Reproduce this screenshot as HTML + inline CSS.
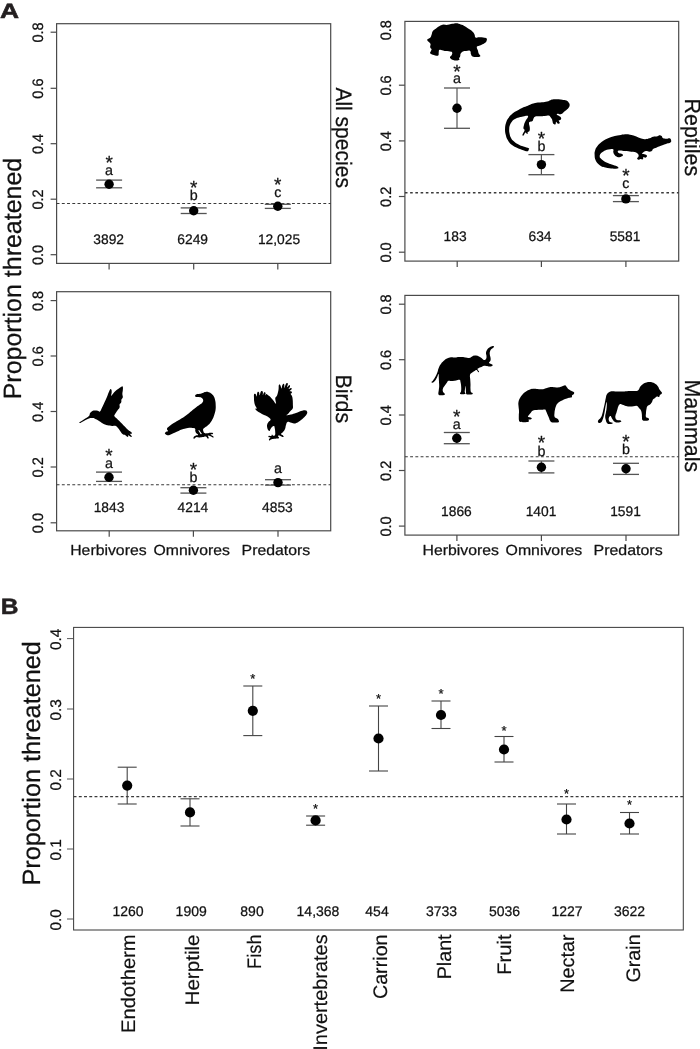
<!DOCTYPE html>
<html><head><meta charset="utf-8"><title>Figure</title>
<style>
html,body{margin:0;padding:0;background:#fff;}
svg{display:block;font-family:"Liberation Sans",sans-serif;fill:#111;will-change:transform;opacity:0.999;text-rendering:geometricPrecision;}
text{stroke:#111;stroke-width:0.25px;stroke-linejoin:round;}
</style></head><body>
<svg width="700" height="1049" viewBox="0 0 700 1049">
<rect width="700" height="1049" fill="#fff" stroke="none"/>
<rect x="56.6" y="23.7" width="274.09999999999997" height="239.7" fill="none" stroke="#4a4a4a" stroke-width="1.2"/>
<line x1="50.6" y1="32.2" x2="56.6" y2="32.2" stroke="#4a4a4a" stroke-width="1.2" />
<line x1="50.6" y1="88.3" x2="56.6" y2="88.3" stroke="#4a4a4a" stroke-width="1.2" />
<line x1="50.6" y1="143.7" x2="56.6" y2="143.7" stroke="#4a4a4a" stroke-width="1.2" />
<line x1="50.6" y1="199.2" x2="56.6" y2="199.2" stroke="#4a4a4a" stroke-width="1.2" />
<line x1="50.6" y1="254.7" x2="56.6" y2="254.7" stroke="#4a4a4a" stroke-width="1.2" />
<text transform="translate(43.199999999999996,42.6) rotate(-90)" font-size="15.1" textLength="20.2" lengthAdjust="spacingAndGlyphs">0.8</text>
<text transform="translate(43.199999999999996,98.69999999999999) rotate(-90)" font-size="15.1" textLength="20.2" lengthAdjust="spacingAndGlyphs">0.6</text>
<text transform="translate(43.199999999999996,154.1) rotate(-90)" font-size="15.1" textLength="20.2" lengthAdjust="spacingAndGlyphs">0.4</text>
<text transform="translate(43.199999999999996,209.6) rotate(-90)" font-size="15.1" textLength="20.2" lengthAdjust="spacingAndGlyphs">0.2</text>
<text transform="translate(43.199999999999996,265.1) rotate(-90)" font-size="15.1" textLength="20.2" lengthAdjust="spacingAndGlyphs">0.0</text>
<line x1="109.1" y1="263.4" x2="109.1" y2="269.4" stroke="#4a4a4a" stroke-width="1.2" />
<line x1="193.7" y1="263.4" x2="193.7" y2="269.4" stroke="#4a4a4a" stroke-width="1.2" />
<line x1="277.8" y1="263.4" x2="277.8" y2="269.4" stroke="#4a4a4a" stroke-width="1.2" />
<line x1="56.6" y1="203.5" x2="330.7" y2="203.5" stroke="#3a3a3a" stroke-width="1.15" stroke-dasharray="2.9 2.33"/>
<line x1="109.1" y1="180.1" x2="109.1" y2="187.8" stroke="#555" stroke-width="1.2" />
<line x1="96.1" y1="180.1" x2="122.1" y2="180.1" stroke="#555" stroke-width="1.3" />
<line x1="96.1" y1="187.8" x2="122.1" y2="187.8" stroke="#555" stroke-width="1.3" />
<circle cx="109.1" cy="184.2" r="4.7" fill="#000"/>
<line x1="193.7" y1="207.9" x2="193.7" y2="213.5" stroke="#555" stroke-width="1.2" />
<line x1="180.7" y1="207.9" x2="206.7" y2="207.9" stroke="#555" stroke-width="1.3" />
<line x1="180.7" y1="213.5" x2="206.7" y2="213.5" stroke="#555" stroke-width="1.3" />
<circle cx="193.7" cy="210.7" r="4.7" fill="#000"/>
<line x1="277.8" y1="204.3" x2="277.8" y2="208.4" stroke="#555" stroke-width="1.2" />
<line x1="264.8" y1="204.3" x2="290.8" y2="204.3" stroke="#555" stroke-width="1.3" />
<line x1="264.8" y1="208.4" x2="290.8" y2="208.4" stroke="#555" stroke-width="1.3" />
<circle cx="277.8" cy="206.3" r="4.7" fill="#000"/>
<text x="108.7" y="243.7" text-anchor="middle" font-size="13.8">3892</text>
<text x="192.7" y="243.7" text-anchor="middle" font-size="13.8">6249</text>
<text x="279" y="243.7" text-anchor="middle" font-size="13.8">12,025</text>
<text x="109.1" y="174.8" text-anchor="middle" font-size="14.3">a</text>
<text x="109.1" y="169.0" text-anchor="middle" font-size="19">*</text>
<text x="193.7" y="199.7" text-anchor="middle" font-size="14.3">b</text>
<text x="193.7" y="193.5" text-anchor="middle" font-size="19">*</text>
<text x="277.8" y="197.1" text-anchor="middle" font-size="14.3">c</text>
<text x="277.8" y="191.0" text-anchor="middle" font-size="19">*</text>
<rect x="404.9" y="21.4" width="273.80000000000007" height="239.70000000000002" fill="none" stroke="#4a4a4a" stroke-width="1.2"/>
<line x1="398.9" y1="85.2" x2="404.9" y2="85.2" stroke="#4a4a4a" stroke-width="1.2" />
<line x1="398.9" y1="140.9" x2="404.9" y2="140.9" stroke="#4a4a4a" stroke-width="1.2" />
<line x1="398.9" y1="196.5" x2="404.9" y2="196.5" stroke="#4a4a4a" stroke-width="1.2" />
<line x1="398.9" y1="252.2" x2="404.9" y2="252.2" stroke="#4a4a4a" stroke-width="1.2" />
<text transform="translate(391.40000000000003,40.3) rotate(-90)" font-size="15.1" textLength="20.2" lengthAdjust="spacingAndGlyphs">0.8</text>
<text transform="translate(391.40000000000003,95.6) rotate(-90)" font-size="15.1" textLength="20.2" lengthAdjust="spacingAndGlyphs">0.6</text>
<text transform="translate(391.40000000000003,151.3) rotate(-90)" font-size="15.1" textLength="20.2" lengthAdjust="spacingAndGlyphs">0.4</text>
<text transform="translate(391.40000000000003,206.9) rotate(-90)" font-size="15.1" textLength="20.2" lengthAdjust="spacingAndGlyphs">0.2</text>
<text transform="translate(391.40000000000003,262.6) rotate(-90)" font-size="15.1" textLength="20.2" lengthAdjust="spacingAndGlyphs">0.0</text>
<line x1="457.2" y1="261.1" x2="457.2" y2="267.1" stroke="#4a4a4a" stroke-width="1.2" />
<line x1="541.4" y1="261.1" x2="541.4" y2="267.1" stroke="#4a4a4a" stroke-width="1.2" />
<line x1="625.9" y1="261.1" x2="625.9" y2="267.1" stroke="#4a4a4a" stroke-width="1.2" />
<line x1="404.9" y1="192.8" x2="678.7" y2="192.8" stroke="#3a3a3a" stroke-width="1.6" stroke-dasharray="2.6 2.63"/>
<line x1="457" y1="88" x2="457" y2="128.3" stroke="#555" stroke-width="1.2" />
<line x1="444" y1="88" x2="470" y2="88" stroke="#555" stroke-width="1.3" />
<line x1="444" y1="128.3" x2="470" y2="128.3" stroke="#555" stroke-width="1.3" />
<circle cx="457" cy="108.2" r="4.7" fill="#000"/>
<line x1="541.4" y1="154.6" x2="541.4" y2="174.7" stroke="#555" stroke-width="1.2" />
<line x1="528.4" y1="154.6" x2="554.4" y2="154.6" stroke="#555" stroke-width="1.3" />
<line x1="528.4" y1="174.7" x2="554.4" y2="174.7" stroke="#555" stroke-width="1.3" />
<circle cx="541.4" cy="164.6" r="4.7" fill="#000"/>
<line x1="625.9" y1="195.6" x2="625.9" y2="201.6" stroke="#555" stroke-width="1.2" />
<line x1="612.9" y1="195.6" x2="638.9" y2="195.6" stroke="#555" stroke-width="1.3" />
<line x1="612.9" y1="201.6" x2="638.9" y2="201.6" stroke="#555" stroke-width="1.3" />
<circle cx="625.9" cy="198.9" r="4.7" fill="#000"/>
<text x="455.1" y="241.4" text-anchor="middle" font-size="13.8">183</text>
<text x="540" y="241.4" text-anchor="middle" font-size="13.8">634</text>
<text x="625" y="241.4" text-anchor="middle" font-size="13.8">5581</text>
<text x="457" y="83.4" text-anchor="middle" font-size="14.3">a</text>
<text x="457" y="77.6" text-anchor="middle" font-size="19">*</text>
<text x="541.4" y="150.9" text-anchor="middle" font-size="14.3">b</text>
<text x="541.4" y="145.20000000000002" text-anchor="middle" font-size="19">*</text>
<text x="625.9" y="187.7" text-anchor="middle" font-size="14.3">c</text>
<text x="625.9" y="182.10000000000002" text-anchor="middle" font-size="19">*</text>
<rect x="56.6" y="291.7" width="274.09999999999997" height="239.09999999999997" fill="none" stroke="#4a4a4a" stroke-width="1.2"/>
<line x1="50.6" y1="300.6" x2="56.6" y2="300.6" stroke="#4a4a4a" stroke-width="1.2" />
<line x1="50.6" y1="356" x2="56.6" y2="356" stroke="#4a4a4a" stroke-width="1.2" />
<line x1="50.6" y1="411.5" x2="56.6" y2="411.5" stroke="#4a4a4a" stroke-width="1.2" />
<line x1="50.6" y1="467" x2="56.6" y2="467" stroke="#4a4a4a" stroke-width="1.2" />
<line x1="50.6" y1="522.8" x2="56.6" y2="522.8" stroke="#4a4a4a" stroke-width="1.2" />
<text transform="translate(43.199999999999996,311.00000000000006) rotate(-90)" font-size="15.1" textLength="20.2" lengthAdjust="spacingAndGlyphs">0.8</text>
<text transform="translate(43.199999999999996,366.40000000000003) rotate(-90)" font-size="15.1" textLength="20.2" lengthAdjust="spacingAndGlyphs">0.6</text>
<text transform="translate(43.199999999999996,421.90000000000003) rotate(-90)" font-size="15.1" textLength="20.2" lengthAdjust="spacingAndGlyphs">0.4</text>
<text transform="translate(43.199999999999996,477.40000000000003) rotate(-90)" font-size="15.1" textLength="20.2" lengthAdjust="spacingAndGlyphs">0.2</text>
<text transform="translate(43.199999999999996,533.1999999999999) rotate(-90)" font-size="15.1" textLength="20.2" lengthAdjust="spacingAndGlyphs">0.0</text>
<line x1="109.2" y1="530.8" x2="109.2" y2="536.8" stroke="#4a4a4a" stroke-width="1.2" />
<line x1="193.4" y1="530.8" x2="193.4" y2="536.8" stroke="#4a4a4a" stroke-width="1.2" />
<line x1="278" y1="530.8" x2="278" y2="536.8" stroke="#4a4a4a" stroke-width="1.2" />
<line x1="56.6" y1="484.7" x2="330.7" y2="484.7" stroke="#3a3a3a" stroke-width="1.15" stroke-dasharray="2.9 2.33"/>
<line x1="109" y1="472.1" x2="109" y2="481.4" stroke="#555" stroke-width="1.2" />
<line x1="96" y1="472.1" x2="122" y2="472.1" stroke="#555" stroke-width="1.3" />
<line x1="96" y1="481.4" x2="122" y2="481.4" stroke="#555" stroke-width="1.3" />
<circle cx="109" cy="477.3" r="4.7" fill="#000"/>
<line x1="193.4" y1="487.7" x2="193.4" y2="493.1" stroke="#555" stroke-width="1.2" />
<line x1="180.4" y1="487.7" x2="206.4" y2="487.7" stroke="#555" stroke-width="1.3" />
<line x1="180.4" y1="493.1" x2="206.4" y2="493.1" stroke="#555" stroke-width="1.3" />
<circle cx="193.4" cy="490.3" r="4.7" fill="#000"/>
<line x1="278" y1="479.7" x2="278" y2="485.1" stroke="#555" stroke-width="1.2" />
<line x1="265" y1="479.7" x2="291" y2="479.7" stroke="#555" stroke-width="1.3" />
<line x1="265" y1="485.1" x2="291" y2="485.1" stroke="#555" stroke-width="1.3" />
<circle cx="278" cy="482.6" r="4.7" fill="#000"/>
<text x="109" y="512" text-anchor="middle" font-size="13.8">1843</text>
<text x="192.9" y="512" text-anchor="middle" font-size="13.8">4214</text>
<text x="277.4" y="512" text-anchor="middle" font-size="13.8">4853</text>
<text x="109" y="467.8" text-anchor="middle" font-size="14.3">a</text>
<text x="109" y="461.6" text-anchor="middle" font-size="19">*</text>
<text x="193.4" y="482.3" text-anchor="middle" font-size="14.3">b</text>
<text x="193.4" y="475.90000000000003" text-anchor="middle" font-size="19">*</text>
<text x="278" y="472.9" text-anchor="middle" font-size="14.3">a</text>
<rect x="404.9" y="295.4" width="273.80000000000007" height="239.70000000000005" fill="none" stroke="#4a4a4a" stroke-width="1.2"/>
<line x1="398.9" y1="304.2" x2="404.9" y2="304.2" stroke="#4a4a4a" stroke-width="1.2" />
<line x1="398.9" y1="359.7" x2="404.9" y2="359.7" stroke="#4a4a4a" stroke-width="1.2" />
<line x1="398.9" y1="415" x2="404.9" y2="415" stroke="#4a4a4a" stroke-width="1.2" />
<line x1="398.9" y1="470.5" x2="404.9" y2="470.5" stroke="#4a4a4a" stroke-width="1.2" />
<line x1="398.9" y1="526.1" x2="404.9" y2="526.1" stroke="#4a4a4a" stroke-width="1.2" />
<text transform="translate(391.40000000000003,314.6) rotate(-90)" font-size="15.1" textLength="20.2" lengthAdjust="spacingAndGlyphs">0.8</text>
<text transform="translate(391.40000000000003,370.1) rotate(-90)" font-size="15.1" textLength="20.2" lengthAdjust="spacingAndGlyphs">0.6</text>
<text transform="translate(391.40000000000003,425.40000000000003) rotate(-90)" font-size="15.1" textLength="20.2" lengthAdjust="spacingAndGlyphs">0.4</text>
<text transform="translate(391.40000000000003,480.90000000000003) rotate(-90)" font-size="15.1" textLength="20.2" lengthAdjust="spacingAndGlyphs">0.2</text>
<text transform="translate(391.40000000000003,536.5) rotate(-90)" font-size="15.1" textLength="20.2" lengthAdjust="spacingAndGlyphs">0.0</text>
<line x1="456.9" y1="535.1" x2="456.9" y2="541.1" stroke="#4a4a4a" stroke-width="1.2" />
<line x1="541.4" y1="535.1" x2="541.4" y2="541.1" stroke="#4a4a4a" stroke-width="1.2" />
<line x1="626" y1="535.1" x2="626" y2="541.1" stroke="#4a4a4a" stroke-width="1.2" />
<line x1="404.9" y1="456.7" x2="678.7" y2="456.7" stroke="#3a3a3a" stroke-width="1.15" stroke-dasharray="2.9 2.33"/>
<line x1="456.8" y1="432.5" x2="456.8" y2="443.7" stroke="#555" stroke-width="1.2" />
<line x1="443.8" y1="432.5" x2="469.8" y2="432.5" stroke="#555" stroke-width="1.3" />
<line x1="443.8" y1="443.7" x2="469.8" y2="443.7" stroke="#555" stroke-width="1.3" />
<circle cx="456.8" cy="438.3" r="4.7" fill="#000"/>
<line x1="541.4" y1="461" x2="541.4" y2="472.9" stroke="#555" stroke-width="1.2" />
<line x1="528.4" y1="461" x2="554.4" y2="461" stroke="#555" stroke-width="1.3" />
<line x1="528.4" y1="472.9" x2="554.4" y2="472.9" stroke="#555" stroke-width="1.3" />
<circle cx="541.4" cy="467.2" r="4.7" fill="#000"/>
<line x1="626" y1="463.3" x2="626" y2="474.4" stroke="#555" stroke-width="1.2" />
<line x1="613" y1="463.3" x2="639" y2="463.3" stroke="#555" stroke-width="1.3" />
<line x1="613" y1="474.4" x2="639" y2="474.4" stroke="#555" stroke-width="1.3" />
<circle cx="626" cy="468.7" r="4.7" fill="#000"/>
<text x="456.4" y="515.6" text-anchor="middle" font-size="13.8">1866</text>
<text x="541" y="515.6" text-anchor="middle" font-size="13.8">1401</text>
<text x="625.5" y="515.6" text-anchor="middle" font-size="13.8">1591</text>
<text x="456.8" y="429.4" text-anchor="middle" font-size="14.3">a</text>
<text x="456.8" y="423.3" text-anchor="middle" font-size="19">*</text>
<text x="541.4" y="455.6" text-anchor="middle" font-size="14.3">b</text>
<text x="541.4" y="449.2" text-anchor="middle" font-size="19">*</text>
<text x="626" y="454.1" text-anchor="middle" font-size="14.3">b</text>
<text x="626" y="447.7" text-anchor="middle" font-size="19">*</text>
<text x="70.2" y="555.2" font-size="14.6" textLength="76.4" lengthAdjust="spacingAndGlyphs">Herbivores</text>
<text x="153.6" y="555.2" font-size="14.6" textLength="76.2" lengthAdjust="spacingAndGlyphs">Omnivores</text>
<text x="241.6" y="555.2" font-size="14.6" textLength="68.6" lengthAdjust="spacingAndGlyphs">Predators</text>
<text x="422.6" y="555.2" font-size="14.6" textLength="76.4" lengthAdjust="spacingAndGlyphs">Herbivores</text>
<text x="505.6" y="555.2" font-size="14.6" textLength="76.6" lengthAdjust="spacingAndGlyphs">Omnivores</text>
<text x="593.6" y="555.2" font-size="14.6" textLength="69" lengthAdjust="spacingAndGlyphs">Predators</text>
<text transform="translate(336.3,87.4) rotate(90)" font-size="22.3" textLength="100.5" lengthAdjust="spacingAndGlyphs">All species</text>
<text transform="translate(684.6,98.6) rotate(90)" font-size="22.3" textLength="77.6" lengthAdjust="spacingAndGlyphs">Reptiles</text>
<text transform="translate(336.4,374.5) rotate(90)" font-size="22.3" textLength="48.6" lengthAdjust="spacingAndGlyphs">Birds</text>
<text transform="translate(684.6,379.5) rotate(90)" font-size="22.3" textLength="92.6" lengthAdjust="spacingAndGlyphs">Mammals</text>
<text transform="translate(20.9,399.3) rotate(-90)" font-size="25" textLength="241.5" lengthAdjust="spacingAndGlyphs">Proportion threatened</text>
<text transform="translate(40.3,885.6) rotate(-90)" font-size="25" textLength="244.5" lengthAdjust="spacingAndGlyphs">Proportion threatened</text>
<text transform="translate(0,18.2) scale(1.27,1)" font-size="20.8" font-weight="bold" fill="#231f20" style="stroke:#231f20;stroke-width:0.6px">A</text>
<text transform="translate(0.8,614) scale(1.1,1)" font-size="22.3" font-weight="bold" fill="#231f20" style="stroke:#231f20;stroke-width:0.5px">B</text>
<rect x="73.6" y="627.4" width="609.6999999999999" height="302.6" fill="none" stroke="#404040" stroke-width="1.05"/>
<line x1="67.0" y1="638.6" x2="73.6" y2="638.6" stroke="#444" stroke-width="0.9" />
<text transform="translate(61.3,650.1) rotate(-90)" font-size="15.4" textLength="21.4" lengthAdjust="spacingAndGlyphs">0.4</text>
<line x1="67.0" y1="709" x2="73.6" y2="709" stroke="#444" stroke-width="0.9" />
<text transform="translate(61.3,720.5) rotate(-90)" font-size="15.4" textLength="21.4" lengthAdjust="spacingAndGlyphs">0.3</text>
<line x1="67.0" y1="779" x2="73.6" y2="779" stroke="#444" stroke-width="0.9" />
<text transform="translate(61.3,790.5) rotate(-90)" font-size="15.4" textLength="21.4" lengthAdjust="spacingAndGlyphs">0.2</text>
<line x1="67.0" y1="849" x2="73.6" y2="849" stroke="#444" stroke-width="0.9" />
<text transform="translate(61.3,860.5) rotate(-90)" font-size="15.4" textLength="21.4" lengthAdjust="spacingAndGlyphs">0.1</text>
<line x1="67.0" y1="919" x2="73.6" y2="919" stroke="#444" stroke-width="0.9" />
<text transform="translate(61.3,930.5) rotate(-90)" font-size="15.4" textLength="21.4" lengthAdjust="spacingAndGlyphs">0.0</text>
<line x1="73.6" y1="796.6" x2="683.3" y2="796.6" stroke="#3a3a3a" stroke-width="1.1" stroke-dasharray="2.9 2.33"/>
<line x1="127.2" y1="767.2" x2="127.2" y2="804" stroke="#444" stroke-width="1.1" />
<line x1="117.7" y1="767.2" x2="136.7" y2="767.2" stroke="#444" stroke-width="1.1" />
<line x1="117.7" y1="804" x2="136.7" y2="804" stroke="#444" stroke-width="1.1" />
<circle cx="127.2" cy="785.6" r="5.1" fill="#000"/>
<line x1="190" y1="798.8" x2="190" y2="826" stroke="#444" stroke-width="1.1" />
<line x1="180.5" y1="798.8" x2="199.5" y2="798.8" stroke="#444" stroke-width="1.1" />
<line x1="180.5" y1="826" x2="199.5" y2="826" stroke="#444" stroke-width="1.1" />
<circle cx="190" cy="812.4" r="5.1" fill="#000"/>
<line x1="252.8" y1="686" x2="252.8" y2="735.6" stroke="#444" stroke-width="1.1" />
<line x1="243.3" y1="686" x2="262.3" y2="686" stroke="#444" stroke-width="1.1" />
<line x1="243.3" y1="735.6" x2="262.3" y2="735.6" stroke="#444" stroke-width="1.1" />
<circle cx="252.8" cy="710.8" r="5.1" fill="#000"/>
<text x="252.8" y="683.3" text-anchor="middle" font-size="13">*</text>
<line x1="315.6" y1="816" x2="315.6" y2="825.2" stroke="#444" stroke-width="1.1" />
<line x1="306.1" y1="816" x2="325.1" y2="816" stroke="#444" stroke-width="1.1" />
<line x1="306.1" y1="825.2" x2="325.1" y2="825.2" stroke="#444" stroke-width="1.1" />
<circle cx="315.6" cy="820.4" r="5.1" fill="#000"/>
<text x="315.6" y="812.9" text-anchor="middle" font-size="13">*</text>
<line x1="378.5" y1="706" x2="378.5" y2="771" stroke="#444" stroke-width="1.1" />
<line x1="369.0" y1="706" x2="388.0" y2="706" stroke="#444" stroke-width="1.1" />
<line x1="369.0" y1="771" x2="388.0" y2="771" stroke="#444" stroke-width="1.1" />
<circle cx="378.5" cy="738.5" r="5.1" fill="#000"/>
<text x="378.5" y="703.0" text-anchor="middle" font-size="13">*</text>
<line x1="441" y1="701" x2="441" y2="728.5" stroke="#444" stroke-width="1.1" />
<line x1="431.5" y1="701" x2="450.5" y2="701" stroke="#444" stroke-width="1.1" />
<line x1="431.5" y1="728.5" x2="450.5" y2="728.5" stroke="#444" stroke-width="1.1" />
<circle cx="441" cy="715" r="5.1" fill="#000"/>
<text x="441" y="698.0" text-anchor="middle" font-size="13">*</text>
<line x1="504" y1="736.5" x2="504" y2="762" stroke="#444" stroke-width="1.1" />
<line x1="494.5" y1="736.5" x2="513.5" y2="736.5" stroke="#444" stroke-width="1.1" />
<line x1="494.5" y1="762" x2="513.5" y2="762" stroke="#444" stroke-width="1.1" />
<circle cx="504" cy="749.5" r="5.1" fill="#000"/>
<text x="504" y="734.5" text-anchor="middle" font-size="13">*</text>
<line x1="566.5" y1="804" x2="566.5" y2="834" stroke="#444" stroke-width="1.1" />
<line x1="557.0" y1="804" x2="576.0" y2="804" stroke="#444" stroke-width="1.1" />
<line x1="557.0" y1="834" x2="576.0" y2="834" stroke="#444" stroke-width="1.1" />
<circle cx="566.5" cy="819.5" r="5.1" fill="#000"/>
<text x="566.5" y="798.0" text-anchor="middle" font-size="13">*</text>
<line x1="629.5" y1="812.5" x2="629.5" y2="834" stroke="#444" stroke-width="1.1" />
<line x1="620.0" y1="812.5" x2="639.0" y2="812.5" stroke="#444" stroke-width="1.1" />
<line x1="620.0" y1="834" x2="639.0" y2="834" stroke="#444" stroke-width="1.1" />
<circle cx="629.5" cy="823.5" r="5.1" fill="#000"/>
<text x="629.5" y="809.0" text-anchor="middle" font-size="13">*</text>
<text x="128" y="916" text-anchor="middle" font-size="14">1260</text>
<text x="191.2" y="916" text-anchor="middle" font-size="14">1909</text>
<text x="252" y="916" text-anchor="middle" font-size="14">890</text>
<text x="318" y="916" text-anchor="middle" font-size="14">14,368</text>
<text x="377" y="916" text-anchor="middle" font-size="14">454</text>
<text x="441.5" y="916" text-anchor="middle" font-size="14">3733</text>
<text x="504.5" y="916" text-anchor="middle" font-size="14">5036</text>
<text x="567" y="916" text-anchor="middle" font-size="14">1227</text>
<text x="629.5" y="916" text-anchor="middle" font-size="14">3622</text>
<text transform="translate(135.1,1033.0) rotate(-90)" font-size="19.6" textLength="98.6" lengthAdjust="spacingAndGlyphs" style="stroke-width:0.15px">Endotherm</text>
<text transform="translate(199.4,1005.5) rotate(-90)" font-size="19.6" textLength="71.1" lengthAdjust="spacingAndGlyphs" style="stroke-width:0.15px">Herptile</text>
<text transform="translate(261.09999999999997,969.0) rotate(-90)" font-size="19.6" textLength="34.6" lengthAdjust="spacingAndGlyphs" style="stroke-width:0.15px">Fish</text>
<text transform="translate(327.2,1050.7) rotate(-90)" font-size="19.6" textLength="116.3" lengthAdjust="spacingAndGlyphs" style="stroke-width:0.15px">Invertebrates</text>
<text transform="translate(387.09999999999997,999.1) rotate(-90)" font-size="19.6" textLength="64.7" lengthAdjust="spacingAndGlyphs" style="stroke-width:0.15px">Carrion</text>
<text transform="translate(451.4,979.3) rotate(-90)" font-size="19.6" textLength="44.9" lengthAdjust="spacingAndGlyphs" style="stroke-width:0.15px">Plant</text>
<text transform="translate(511.09999999999997,974.6999999999999) rotate(-90)" font-size="19.6" textLength="40.3" lengthAdjust="spacingAndGlyphs" style="stroke-width:0.15px">Fruit</text>
<text transform="translate(573.5,992.6999999999999) rotate(-90)" font-size="19.6" textLength="58.3" lengthAdjust="spacingAndGlyphs" style="stroke-width:0.15px">Nectar</text>
<text transform="translate(640.4,982.5) rotate(-90)" font-size="19.6" textLength="48.1" lengthAdjust="spacingAndGlyphs" style="stroke-width:0.15px">Grain</text>
<g fill="#000" stroke="none">
<path d="M427.29,39.43C427.66,38.48 429.18,38.79 430.18,37.71C431.18,36.64 430.95,36.37 431.57,34.82C432.20,33.27 431.81,32.57 432.86,31.07C433.91,29.57 434.32,29.69 436.07,28.39C437.82,27.09 438.73,26.38 440.36,25.50C441.98,24.62 441.29,24.79 443.04,24.64C444.79,24.49 445.73,25.06 447.86,24.86C449.98,24.66 450.14,24.19 452.14,23.79C454.14,23.39 454.68,23.09 456.43,23.14C458.18,23.19 457.89,23.40 459.64,24.00C461.39,24.60 461.93,24.69 463.93,25.71C465.93,26.74 466.34,27.14 468.21,28.39C470.09,29.64 470.51,29.70 471.96,31.07C473.41,32.45 473.60,32.79 474.43,34.29C475.25,35.79 474.45,36.80 475.50,37.50C476.55,38.20 477.13,37.29 478.93,37.29C480.73,37.29 481.46,37.25 483.21,37.50C484.96,37.75 485.63,37.61 486.43,38.36C487.23,39.11 487.02,39.61 486.64,40.71C486.27,41.81 486.00,42.12 484.82,43.07C483.65,44.02 483.11,44.09 481.61,44.79C480.11,45.49 479.52,45.52 478.39,46.07C477.27,46.62 476.91,46.14 476.79,47.14C476.66,48.14 477.41,48.86 477.86,50.36C478.31,51.86 478.16,52.37 478.71,53.57C479.26,54.77 480.04,54.75 480.21,55.50C480.39,56.25 480.51,56.44 479.46,56.79C478.41,57.14 477.34,57.05 475.71,57.00C474.09,56.95 473.62,57.25 472.50,56.57C471.38,55.90 471.44,55.43 470.89,54.11C470.34,52.78 471.27,51.64 470.14,50.89C469.02,50.14 467.77,50.77 466.07,50.89C464.37,51.02 464.11,50.80 462.86,51.43C461.61,52.05 461.34,52.45 460.71,53.57C460.09,54.70 460.55,55.12 460.18,56.25C459.80,57.38 459.28,57.57 459.11,58.39C458.93,59.22 460.05,59.29 459.43,59.79C458.80,60.29 457.88,60.49 456.43,60.54C454.98,60.59 454.51,60.43 453.21,60.00C451.91,59.57 451.61,59.41 450.86,58.71C450.11,58.01 449.82,57.83 450.00,57.00C450.18,56.17 451.11,56.23 451.61,55.18C452.11,54.13 452.52,53.38 452.14,52.50C451.77,51.62 451.75,51.80 450.00,51.43C448.25,51.05 447.02,51.27 444.64,50.89C442.27,50.52 441.20,49.57 439.82,49.82C438.45,50.07 439.07,50.71 438.75,51.96C438.43,53.21 439.05,54.30 438.43,55.18C437.80,56.05 437.37,55.79 436.07,55.71C434.77,55.64 434.23,55.41 432.86,54.86C431.48,54.31 430.68,54.16 430.18,53.36C429.68,52.56 430.39,52.38 430.71,51.43C431.04,50.48 431.70,50.29 431.57,49.29C431.45,48.29 430.43,48.39 430.18,47.14C429.93,45.89 430.88,45.18 430.50,43.93C430.12,42.68 429.32,42.84 428.57,41.79C427.82,40.74 426.91,40.38 427.29,39.43Z"/>
<path d="M527.21,151.25C525.81,151.20 524.77,150.71 522.50,149.96C520.23,149.21 519.91,149.19 517.46,148.04C515.01,146.89 514.20,146.79 512.00,145.04C509.80,143.29 509.49,142.89 508.04,140.54C506.59,138.19 506.49,137.66 505.79,134.96C505.09,132.26 504.99,131.76 505.04,128.96C505.09,126.16 505.20,125.51 506.00,122.96C506.80,120.41 506.94,120.24 508.46,118.04C509.99,115.84 510.44,115.29 512.54,113.54C514.64,111.79 515.14,111.91 517.46,110.54C519.79,109.16 520.07,108.77 522.50,107.64C524.93,106.52 525.61,106.61 527.86,105.71C530.11,104.81 530.14,104.49 532.14,103.79C534.14,103.09 534.18,103.06 536.43,102.71C538.68,102.36 539.29,102.59 541.79,102.29C544.29,101.99 545.14,101.93 547.14,101.43C549.14,100.93 548.86,100.64 550.36,100.14C551.86,99.64 551.82,99.49 553.57,99.29C555.32,99.09 555.86,99.19 557.86,99.29C559.86,99.39 560.14,99.41 562.14,99.71C564.14,100.01 564.88,99.87 566.43,100.57C567.98,101.27 568.04,101.64 568.79,102.71C569.54,103.79 569.69,103.98 569.64,105.18C569.59,106.38 569.32,106.73 568.57,107.86C567.82,108.98 567.43,109.12 566.43,110.00C565.43,110.88 565.16,110.86 564.29,111.61C563.41,112.36 563.68,112.59 562.68,113.21C561.68,113.84 561.12,114.16 560.00,114.29C558.88,114.41 558.61,113.62 557.86,113.75C557.11,113.88 556.49,114.32 556.79,114.82C557.09,115.32 558.14,115.22 559.14,115.89C560.14,116.57 560.75,116.79 561.07,117.71C561.40,118.64 561.09,119.21 560.54,119.86C559.99,120.51 558.89,119.75 558.71,120.50C558.54,121.25 560.04,122.37 559.79,123.07C559.54,123.77 558.49,123.80 557.64,123.50C556.79,123.20 556.64,121.64 556.14,121.79C555.64,121.94 556.15,123.69 555.50,124.14C554.85,124.59 554.06,124.39 553.36,123.71C552.66,123.04 552.85,122.33 552.50,121.25C552.15,120.17 552.36,120.11 551.86,119.11C551.36,118.11 551.08,117.79 550.36,116.96C549.63,116.14 550.00,115.82 548.75,115.57C547.50,115.32 547.12,115.74 545.00,115.89C542.88,116.04 541.89,116.09 539.64,116.21C537.39,116.34 536.78,115.90 535.36,116.43C533.93,116.95 534.21,117.39 533.54,118.46C532.86,119.54 533.41,120.21 532.46,121.04C531.51,121.86 530.26,121.30 529.46,122.00C528.66,122.70 528.96,122.76 529.04,124.04C529.11,125.31 529.69,125.84 529.79,127.46C529.89,129.09 529.94,129.95 529.46,131.00C528.99,132.05 528.15,131.39 527.75,131.96C527.35,132.54 527.98,133.04 527.75,133.46C527.52,133.89 527.31,134.01 526.79,133.79C526.26,133.56 526.27,132.10 525.50,132.50C524.73,132.90 524.16,135.03 523.46,135.50C522.76,135.97 522.25,135.71 522.50,134.54C522.75,133.36 524.31,131.86 524.54,130.46C524.76,129.06 523.59,129.81 523.46,128.54C523.34,127.26 523.52,126.75 524.00,125.00C524.48,123.25 524.58,122.91 525.50,121.04C526.42,119.16 527.61,118.19 527.96,116.96C528.31,115.74 528.15,115.89 527.00,115.79C525.85,115.69 524.91,116.14 523.04,116.54C521.16,116.94 520.84,116.92 518.96,117.50C517.09,118.08 516.62,118.08 515.00,119.00C513.38,119.92 513.17,120.06 512.00,121.46C510.82,122.86 510.61,123.25 509.96,125.00C509.31,126.75 509.31,126.99 509.21,128.96C509.11,130.94 509.11,131.36 509.54,133.46C509.96,135.56 509.99,136.09 511.04,137.96C512.09,139.84 512.29,139.97 514.04,141.50C515.79,143.03 516.34,143.32 518.54,144.50C520.74,145.68 521.09,145.66 523.46,146.54C525.84,147.41 527.41,147.80 528.71,148.25C530.01,148.70 529.09,148.01 529.04,148.46C528.99,148.91 528.93,149.53 528.50,150.18C528.07,150.83 528.61,151.30 527.21,151.25Z"/>
<path d="M618.29,167.46C618.58,167.95 618.70,168.00 618.05,168.31C617.40,168.63 616.72,168.74 615.50,168.80C614.28,168.86 615.18,168.87 612.83,168.56C610.48,168.25 608.48,168.26 605.42,167.46C602.36,166.67 601.98,166.77 599.71,165.16C597.45,163.54 596.90,162.95 595.71,160.54C594.52,158.13 594.76,157.19 594.61,154.84C594.47,152.48 594.48,152.48 595.10,150.46C595.72,148.45 595.78,148.20 597.29,146.21C598.79,144.23 599.27,143.72 601.54,141.96C603.80,140.21 604.31,139.96 607.00,138.69C609.69,137.41 610.24,137.29 613.07,136.50C615.90,135.71 616.31,135.80 619.14,135.29C621.98,134.78 622.66,134.46 625.21,134.31C627.76,134.17 627.80,134.31 630.07,134.68C632.34,135.05 632.66,135.13 634.93,135.89C637.20,136.66 637.52,137.19 639.79,137.96C642.05,138.72 642.38,139.09 644.64,139.17C646.91,139.26 647.52,138.89 649.50,138.32C651.48,137.75 651.30,137.22 653.14,136.74C654.98,136.26 655.98,136.60 657.39,136.26C658.81,135.92 658.22,135.37 659.21,135.29C660.21,135.20 660.79,135.27 661.64,135.89C662.49,136.52 661.72,137.31 662.86,137.96C663.99,138.61 664.94,138.60 666.50,138.69C668.06,138.77 668.46,137.98 669.54,138.32C670.61,138.66 670.92,139.15 671.11,140.14C671.31,141.13 671.46,141.72 670.39,142.57C669.31,143.42 668.54,143.08 666.50,143.79C664.46,144.49 663.91,144.76 661.64,145.61C659.38,146.46 658.77,146.66 656.79,147.43C654.80,148.19 654.28,148.09 653.14,148.89C652.01,149.68 652.78,150.18 651.93,150.83C651.08,151.48 650.92,151.62 649.50,151.68C648.08,151.74 647.27,150.93 645.86,151.07C644.44,151.21 644.28,151.66 643.43,152.29C642.58,152.91 641.79,153.23 642.21,153.74C642.64,154.25 644.12,153.96 645.25,154.47C646.38,154.98 647.07,155.16 647.07,155.93C647.07,156.69 646.10,157.47 645.25,157.75C644.40,158.03 644.00,156.77 643.43,157.14C642.86,157.51 643.53,158.90 642.82,159.33C642.11,159.75 641.38,158.85 640.39,158.96C639.40,159.08 639.34,159.96 638.57,159.81C637.81,159.67 637.11,159.21 637.11,158.36C637.11,157.51 638.37,157.16 638.57,156.17C638.77,155.18 638.67,155.01 637.96,154.11C637.26,153.20 637.09,152.85 635.54,152.29C633.98,151.72 633.69,151.96 631.29,151.68C628.88,151.40 627.76,151.35 625.21,151.07C622.66,150.79 622.06,150.46 620.36,150.46C618.66,150.46 618.35,150.50 617.93,151.07C617.50,151.64 617.69,152.27 618.54,152.89C619.39,153.52 620.52,153.18 621.57,153.74C622.62,154.31 623.31,154.58 623.03,155.32C622.75,156.06 621.69,156.53 620.36,156.90C619.03,157.27 618.60,157.27 617.32,156.90C616.05,156.53 615.83,156.40 614.89,155.32C613.96,154.24 613.74,153.70 613.31,152.29C612.89,150.87 614.26,149.90 613.07,149.25C611.88,148.60 610.40,149.04 608.21,149.49C606.03,149.95 605.51,150.20 603.72,151.19C601.94,152.18 601.50,152.50 600.56,153.74C599.63,154.99 599.71,155.49 599.71,156.54C599.71,157.58 599.77,157.30 600.56,158.24C601.36,159.17 601.58,159.47 603.11,160.54C604.64,161.62 605.11,161.91 607.12,162.85C609.13,163.78 609.47,163.76 611.74,164.55C614.00,165.34 615.31,165.57 616.84,166.25C618.37,166.93 618.01,166.98 618.29,167.46Z"/>
<path d="M79.64,422.25C80.44,421.45 81.65,420.92 83.82,419.46C85.99,418.01 87.52,417.44 88.93,416.03C90.34,414.62 89.21,414.51 89.86,413.43C90.51,412.35 90.63,412.08 91.71,411.39C92.80,410.69 93.09,410.59 94.50,410.46C95.91,410.33 96.49,410.57 97.75,410.83C99.01,411.09 98.91,412.26 99.89,411.57C100.86,410.88 100.85,410.02 101.93,407.86C103.01,405.69 103.34,404.89 104.53,402.29C105.72,399.69 106.02,399.10 107.04,396.71C108.05,394.33 108.13,393.80 108.89,392.07C109.65,390.34 109.70,389.83 110.29,389.29C110.87,388.74 111.08,388.99 111.40,389.75C111.73,390.51 111.72,391.13 111.68,392.54C111.64,393.94 110.67,395.79 111.21,395.79C111.76,395.79 112.48,394.05 114.00,392.54C115.52,391.02 115.98,390.65 117.71,389.29C119.45,387.92 120.24,387.23 121.43,386.69C122.62,386.14 122.50,386.14 122.82,386.96C123.15,387.79 122.93,388.59 122.82,390.21C122.71,391.84 122.36,392.30 122.36,393.93C122.36,395.55 123.04,395.88 122.82,397.18C122.60,398.48 121.80,398.31 121.43,399.50C121.06,400.69 121.68,401.09 121.24,402.29C120.81,403.48 119.96,403.42 119.57,404.61C119.18,405.80 120.11,405.98 119.57,407.39C119.03,408.80 118.33,409.02 117.25,410.64C116.17,412.27 115.58,413.06 114.93,414.36C114.28,415.66 114.03,415.24 114.46,416.21C114.90,417.19 115.38,417.13 116.79,418.54C118.19,419.94 118.77,420.52 120.50,422.25C122.23,423.98 122.48,424.23 124.21,425.96C125.95,427.70 126.20,428.16 127.93,429.68C129.66,431.20 130.88,431.49 131.64,432.46C132.40,433.44 131.61,433.58 131.18,433.86C130.75,434.14 129.63,433.13 129.79,433.67C129.94,434.21 131.61,435.44 131.83,436.18C132.05,436.92 131.52,437.05 130.71,436.83C129.91,436.61 129.00,435.25 128.39,435.25C127.79,435.25 128.55,436.61 128.11,436.83C127.68,437.05 127.34,436.66 126.54,436.18C125.73,435.70 125.55,435.22 124.68,434.79C123.81,434.35 123.80,435.08 122.82,434.32C121.85,433.56 121.58,432.94 120.50,431.54C119.42,430.13 119.26,429.59 118.18,428.29C117.10,426.99 117.27,426.51 115.86,425.96C114.45,425.42 114.09,426.12 112.14,425.96C110.19,425.81 109.67,425.90 107.50,425.31C105.33,424.73 104.92,424.50 102.86,423.46C100.80,422.42 100.52,421.94 98.68,420.86C96.84,419.77 96.48,419.46 94.96,418.81C93.45,418.16 93.59,418.14 92.18,418.07C90.77,418.01 90.77,417.89 88.93,418.54C87.09,419.19 86.28,419.84 84.29,420.86C82.29,421.88 81.47,422.57 80.39,422.90C79.30,423.22 78.84,423.05 79.64,422.25Z"/>
<path d="M195.10,395.68C195.21,395.07 195.55,394.72 196.68,394.29C197.81,393.85 198.52,394.15 199.93,393.82C201.34,393.50 201.41,393.33 202.71,392.89C204.01,392.46 204.09,392.12 205.50,391.96C206.91,391.81 207.34,391.81 208.75,392.24C210.16,392.68 210.34,392.80 211.54,393.82C212.73,394.84 212.99,394.98 213.86,396.61C214.72,398.23 214.82,398.73 215.25,400.79C215.68,402.84 215.65,403.26 215.71,405.43C215.78,407.60 215.85,407.90 215.53,410.07C215.20,412.24 215.04,412.55 214.32,414.71C213.61,416.88 213.44,417.41 212.46,419.36C211.49,421.31 211.33,421.55 210.14,423.07C208.95,424.59 208.66,424.77 207.36,425.86C206.06,426.94 205.55,426.96 204.57,427.71C203.60,428.47 203.44,428.24 203.18,429.11C202.92,429.97 203.13,430.50 203.46,431.43C203.78,432.36 203.66,432.67 204.57,433.10C205.48,433.53 206.06,433.35 207.36,433.29C208.66,433.22 208.84,432.86 210.14,432.82C211.44,432.78 212.39,432.78 212.93,433.10C213.47,433.43 213.01,433.91 212.46,434.21C211.92,434.52 210.39,433.86 210.61,434.40C210.82,434.94 212.85,435.82 213.39,436.54C213.93,437.25 213.69,437.57 212.93,437.46C212.17,437.36 211.33,436.50 210.14,436.07C208.95,435.64 208.15,435.17 207.82,435.61C207.50,436.04 208.81,437.28 208.75,437.93C208.69,438.58 208.19,438.72 207.54,438.39C206.89,438.07 207.09,436.86 205.96,436.54C204.84,436.21 204.34,436.78 202.71,437.00C201.09,437.22 200.52,437.42 199.00,437.46C197.48,437.51 197.34,436.90 196.21,437.19C195.09,437.47 194.82,438.54 194.17,438.67C193.52,438.80 193.28,438.35 193.43,437.74C193.58,437.14 193.95,436.63 194.82,436.07C195.69,435.51 196.38,435.65 197.14,435.33C197.90,435.00 198.24,435.16 198.07,434.68C197.90,434.20 197.05,434.15 196.40,433.29C195.75,432.42 195.59,432.05 195.29,430.96C194.98,429.88 195.75,429.36 195.10,428.64C194.45,427.93 194.19,428.07 192.50,427.90C190.81,427.73 190.02,427.62 187.86,427.90C185.69,428.18 185.38,428.39 183.21,429.11C181.05,429.82 180.74,430.03 178.57,430.96C176.40,431.90 175.88,432.23 173.93,433.10C171.98,433.97 171.73,434.20 170.21,434.68C168.70,435.16 168.62,435.36 167.43,435.14C166.24,434.93 165.54,434.44 165.11,433.75C164.67,433.06 164.92,432.82 165.57,432.17C166.22,431.52 167.57,431.79 167.89,430.96C168.22,430.14 166.64,429.73 166.96,428.64C167.29,427.56 167.88,427.51 169.29,426.32C170.69,425.13 171.05,424.84 173.00,423.54C174.95,422.24 175.48,422.05 177.64,420.75C179.81,419.45 180.12,419.37 182.29,417.96C184.45,416.56 184.76,416.34 186.93,414.71C189.10,413.09 189.40,412.73 191.57,411.00C193.74,409.27 194.26,408.80 196.21,407.29C198.16,405.77 198.52,405.58 199.93,404.50C201.34,403.42 201.49,403.62 202.25,402.64C203.01,401.67 203.29,401.40 203.18,400.32C203.07,399.24 202.76,398.76 201.79,398.00C200.81,397.24 200.30,397.33 199.00,397.07C197.70,396.81 197.12,397.21 196.21,396.89C195.30,396.56 194.99,396.29 195.10,395.68Z"/>
<path d="M253.93,395.36C254.00,394.41 253.87,394.18 254.29,393.93C254.71,393.68 255.13,393.71 255.71,394.29C256.29,394.87 256.46,396.68 256.79,396.43C257.12,396.18 256.81,394.29 257.14,393.21C257.47,392.13 257.74,391.87 258.21,391.79C258.68,391.71 258.81,392.03 259.14,392.86C259.47,393.69 259.31,395.53 259.64,395.36C259.97,395.19 260.07,393.14 260.57,392.14C261.07,391.14 261.26,391.07 261.79,391.07C262.32,391.07 262.61,391.22 262.86,392.14C263.11,393.06 262.61,394.83 262.86,395.00C263.11,395.17 263.46,393.53 263.93,392.86C264.40,392.19 264.48,392.06 264.86,392.14C265.24,392.22 265.45,392.46 265.57,393.21C265.69,393.96 265.13,395.19 265.36,395.36C265.59,395.53 266.07,394.10 266.57,393.93C267.07,393.76 266.87,394.14 267.50,394.64C268.13,395.14 268.37,395.24 269.29,396.07C270.21,396.90 270.43,397.13 271.43,398.21C272.43,399.29 272.74,399.62 273.57,400.71C274.40,401.79 274.42,402.19 275.00,402.86C275.58,403.53 275.94,404.07 276.07,403.57C276.20,403.07 275.74,402.04 275.57,400.71C275.40,399.38 275.08,398.94 275.36,397.86C275.64,396.78 276.21,397.24 276.79,396.07C277.37,394.90 277.44,394.44 277.86,392.86C278.28,391.28 278.35,391.04 278.57,389.29C278.79,387.54 278.54,386.49 278.79,385.36C279.04,384.23 279.22,384.35 279.64,384.43C280.06,384.51 280.15,384.74 280.57,385.71C280.99,386.68 281.03,388.65 281.43,388.57C281.83,388.49 281.82,386.49 282.29,385.36C282.76,384.23 282.96,383.88 283.43,383.71C283.90,383.54 284.09,383.67 284.29,384.64C284.49,385.61 283.99,387.86 284.29,387.86C284.59,387.86 284.99,385.77 285.57,384.64C286.15,383.51 286.26,383.17 286.79,383.00C287.32,382.83 287.78,382.96 287.86,383.93C287.94,384.90 286.97,386.72 287.14,387.14C287.31,387.56 287.99,386.18 288.57,385.71C289.15,385.24 289.31,384.97 289.64,385.14C289.97,385.31 290.25,385.55 290.00,386.43C289.75,387.31 288.49,388.51 288.57,388.93C288.65,389.35 289.69,388.38 290.36,388.21C291.03,388.04 291.15,387.96 291.43,388.21C291.71,388.46 291.99,388.62 291.57,389.29C291.15,389.96 289.71,390.57 289.64,391.07C289.57,391.57 290.74,391.18 291.29,391.43C291.84,391.68 291.97,391.72 292.00,392.14C292.03,392.56 291.73,392.79 291.43,393.21C291.13,393.63 290.55,393.18 290.72,393.93C290.89,394.68 291.67,395.01 292.14,396.43C292.61,397.85 292.55,398.17 292.72,400.00C292.89,401.83 292.86,402.29 292.86,404.29C292.86,406.29 293.27,407.00 292.72,408.57C292.17,410.14 291.60,409.73 290.50,411.00C289.40,412.27 288.93,413.02 288.00,414.00C287.07,414.98 285.80,415.08 286.50,415.20C287.20,415.32 288.78,415.01 291.00,414.50C293.22,413.99 293.67,413.82 296.00,413.00C298.33,412.18 298.90,411.65 301.00,411.00C303.10,410.35 303.60,410.08 305.00,410.20C306.40,410.32 306.58,410.61 307.00,411.50C307.42,412.39 307.38,412.72 306.80,414.00C306.22,415.28 305.85,415.60 304.50,417.00C303.15,418.40 302.75,418.65 301.00,420.00C299.25,421.35 298.63,421.98 297.00,422.80C295.37,423.62 295.52,423.57 294.00,423.50C292.48,423.43 292.02,422.85 290.50,422.50C288.98,422.15 288.55,421.42 287.50,422.00C286.45,422.58 286.58,423.37 286.00,425.00C285.42,426.63 285.70,427.37 285.00,429.00C284.30,430.63 283.93,430.83 283.00,432.00C282.07,433.17 281.00,433.18 281.00,434.00C281.00,434.82 282.42,434.80 283.00,435.50C283.58,436.20 283.85,436.77 283.50,437.00C283.15,437.23 282.43,436.85 281.50,436.50C280.57,436.15 280.32,435.62 279.50,435.50C278.68,435.38 278.12,435.42 278.00,436.00C277.88,436.58 279.23,437.42 279.00,438.00C278.77,438.58 278.17,438.31 277.00,438.50C275.83,438.69 275.40,438.57 274.00,438.80C272.60,439.03 272.05,439.10 271.00,439.50C269.95,439.90 269.97,440.57 269.50,440.50C269.03,440.43 268.77,439.83 269.00,439.20C269.23,438.57 270.62,438.31 270.50,437.80C270.38,437.29 268.85,437.47 268.50,437.00C268.15,436.53 268.37,436.03 269.00,435.80C269.63,435.57 270.50,436.30 271.20,436.00C271.90,435.70 271.53,434.55 272.00,434.50C272.47,434.45 272.50,435.68 273.20,435.80C273.90,435.92 274.53,435.89 275.00,435.00C275.47,434.11 275.25,433.52 275.20,432.00C275.15,430.48 275.08,429.90 274.80,428.50C274.52,427.10 274.65,426.35 274.00,426.00C273.35,425.65 272.82,426.30 272.00,427.00C271.18,427.70 271.08,428.07 270.50,429.00C269.92,429.93 270.04,430.77 269.50,431.00C268.96,431.23 268.74,430.82 268.20,430.00C267.66,429.18 267.43,428.78 267.20,427.50C266.97,426.22 266.90,425.78 267.20,424.50C267.50,423.22 267.73,423.05 268.50,422.00C269.27,420.95 270.27,420.93 270.50,420.00C270.73,419.07 270.43,418.93 269.50,418.00C268.57,417.07 268.02,416.82 266.50,416.00C264.98,415.18 264.63,415.32 263.00,414.50C261.37,413.68 261.02,413.43 259.50,412.50C257.98,411.57 257.43,411.32 256.50,410.50C255.57,409.68 255.50,409.58 255.50,409.00C255.50,408.42 256.62,408.93 256.50,408.00C256.38,407.07 255.54,406.52 255.00,405.00C254.46,403.48 254.43,403.13 254.20,401.50C253.97,399.87 254.06,399.43 254.00,398.00C253.94,396.57 253.86,396.31 253.93,395.36Z"/>
<path d="M431.50,382.00C431.62,381.46 432.07,381.78 433.00,380.50C433.93,379.22 434.45,378.48 435.50,376.50C436.55,374.52 436.80,373.87 437.50,372.00C438.20,370.13 437.80,370.25 438.50,368.50C439.20,366.75 439.33,366.25 440.50,364.50C441.67,362.75 441.98,362.40 443.50,361.00C445.02,359.60 445.25,359.39 447.00,358.50C448.75,357.61 449.13,357.43 451.00,357.20C452.87,356.97 453.13,357.55 455.00,357.50C456.87,357.45 457.13,357.12 459.00,357.00C460.87,356.88 461.13,356.81 463.00,357.00C464.87,357.19 465.37,357.61 467.00,357.80C468.63,357.99 468.72,358.17 470.00,357.80C471.28,357.43 471.22,356.74 472.50,356.20C473.78,355.66 474.10,355.50 475.50,355.50C476.90,355.50 477.10,355.62 478.50,356.20C479.90,356.78 480.22,357.11 481.50,358.00C482.78,358.89 482.95,359.77 484.00,360.00C485.05,360.23 485.42,359.93 486.00,359.00C486.58,358.07 486.50,357.40 486.50,356.00C486.50,354.60 485.88,354.40 486.00,353.00C486.12,351.60 486.30,351.21 487.00,350.00C487.70,348.79 487.83,348.69 489.00,347.80C490.17,346.91 490.88,346.57 492.00,346.20C493.12,345.83 493.45,345.90 493.80,346.20C494.15,346.50 494.04,346.85 493.50,347.50C492.96,348.15 492.32,348.07 491.50,349.00C490.68,349.93 490.40,350.22 490.00,351.50C489.60,352.78 489.68,353.10 489.80,354.50C489.92,355.90 490.34,356.10 490.50,357.50C490.66,358.90 490.85,359.26 490.50,360.50C490.15,361.74 489.00,362.03 489.00,362.80C489.00,363.57 489.68,363.33 490.50,363.80C491.32,364.27 492.15,364.29 492.50,364.80C492.85,365.31 492.70,365.60 492.00,366.00C491.30,366.40 490.78,366.50 489.50,366.50C488.22,366.50 487.78,366.16 486.50,366.00C485.22,365.84 485.17,365.57 484.00,365.80C482.83,366.03 482.78,366.44 481.50,367.00C480.22,367.56 479.43,367.69 478.50,368.20C477.57,368.71 477.38,368.43 477.50,369.20C477.62,369.97 478.84,370.85 479.00,371.50C479.16,372.15 478.78,372.35 478.20,372.00C477.62,371.65 477.36,370.23 476.50,370.00C475.64,369.77 475.67,370.30 474.50,371.00C473.33,371.70 472.55,372.07 471.50,373.00C470.45,373.93 470.30,373.60 470.00,375.00C469.70,376.40 470.08,376.90 470.20,379.00C470.32,381.10 470.43,381.67 470.50,384.00C470.57,386.33 470.38,387.13 470.50,389.00C470.62,390.87 470.53,391.07 471.00,392.00C471.47,392.93 472.22,392.49 472.50,393.00C472.78,393.51 473.02,393.85 472.20,394.20C471.38,394.55 470.33,394.50 469.00,394.50C467.67,394.50 467.20,394.78 466.50,394.20C465.80,393.62 466.16,393.21 466.00,392.00C465.84,390.79 465.92,390.40 465.80,389.00C465.68,387.60 465.69,386.00 465.50,386.00C465.31,386.00 465.16,387.60 465.00,389.00C464.84,390.40 464.68,390.95 464.80,392.00C464.92,393.05 465.69,392.99 465.50,393.50C465.31,394.01 465.05,394.04 464.00,394.20C462.95,394.36 461.93,394.43 461.00,394.20C460.07,393.97 460.00,393.83 460.00,393.20C460.00,392.57 460.72,392.95 461.00,391.50C461.28,390.05 461.32,389.22 461.20,387.00C461.08,384.78 460.90,383.68 460.50,382.00C460.10,380.32 460.55,380.15 459.50,379.80C458.45,379.45 457.75,380.22 456.00,380.50C454.25,380.78 453.75,380.93 452.00,381.00C450.25,381.07 449.67,380.45 448.50,380.80C447.33,381.15 447.93,381.29 447.00,382.50C446.07,383.71 445.43,384.60 444.50,386.00C443.57,387.40 443.40,387.33 443.00,388.50C442.60,389.67 442.57,389.95 442.80,391.00C443.03,392.05 443.49,392.30 444.00,393.00C444.51,393.70 445.00,393.53 445.00,394.00C445.00,394.47 444.93,394.72 444.00,395.00C443.07,395.28 442.28,395.32 441.00,395.20C439.72,395.08 439.01,395.71 438.50,394.50C437.99,393.29 438.64,391.98 438.80,390.00C438.96,388.02 439.15,387.87 439.20,386.00C439.25,384.13 439.09,383.87 439.00,382.00C438.91,380.13 438.92,379.87 438.80,378.00C438.68,376.13 438.92,374.12 438.50,374.00C438.08,373.88 437.86,375.87 437.00,377.50C436.14,379.13 435.85,379.76 434.80,381.00C433.75,382.24 433.27,382.57 432.50,382.80C431.73,383.03 431.38,382.54 431.50,382.00Z"/>
<path d="M519.00,420.50C518.72,419.15 518.80,418.22 518.80,416.00C518.80,413.78 519.07,413.33 519.00,411.00C518.93,408.67 518.62,408.10 518.50,406.00C518.38,403.90 518.15,403.87 518.50,402.00C518.85,400.13 519.07,399.75 520.00,398.00C520.93,396.25 521.10,396.02 522.50,394.50C523.90,392.98 524.25,392.67 526.00,391.50C527.75,390.33 528.13,390.13 530.00,389.50C531.87,388.87 531.90,388.87 534.00,388.80C536.10,388.73 536.90,389.11 539.00,389.20C541.10,389.29 541.37,389.43 543.00,389.20C544.63,388.97 544.48,388.67 546.00,388.20C547.52,387.73 547.63,387.43 549.50,387.20C551.37,386.97 552.02,387.13 554.00,387.20C555.98,387.27 556.37,387.59 558.00,387.50C559.63,387.41 559.72,387.20 561.00,386.80C562.28,386.40 562.45,386.10 563.50,385.80C564.55,385.50 564.73,385.17 565.50,385.50C566.27,385.83 565.98,386.27 566.80,387.20C567.62,388.13 567.79,388.57 569.00,389.50C570.21,390.43 570.83,390.57 572.00,391.20C573.17,391.83 573.58,391.55 574.00,392.20C574.42,392.85 574.27,393.23 573.80,394.00C573.33,394.77 572.47,394.75 572.00,395.50C571.53,396.25 572.50,396.66 571.80,397.20C571.10,397.74 570.35,397.43 569.00,397.80C567.65,398.17 567.40,398.29 566.00,398.80C564.60,399.31 564.40,399.37 563.00,400.00C561.60,400.63 561.28,400.68 560.00,401.50C558.72,402.32 558.43,402.45 557.50,403.50C556.57,404.55 556.58,404.60 556.00,406.00C555.42,407.40 555.35,407.87 555.00,409.50C554.65,411.13 554.62,411.37 554.50,413.00C554.38,414.63 554.15,415.33 554.50,416.50C554.85,417.67 555.18,417.37 556.00,418.00C556.82,418.63 557.35,418.50 558.00,419.20C558.65,419.90 558.68,420.30 558.80,421.00C558.92,421.70 559.39,421.85 558.50,422.20C557.61,422.55 556.63,422.50 555.00,422.50C553.37,422.50 552.67,422.67 551.50,422.20C550.33,421.73 550.58,421.48 550.00,420.50C549.42,419.52 549.58,419.40 549.00,418.00C548.42,416.60 548.20,416.13 547.50,414.50C546.80,412.87 546.58,412.17 546.00,411.00C545.42,409.83 546.17,409.78 545.00,409.50C543.83,409.22 542.87,409.68 541.00,409.80C539.13,409.92 538.87,409.84 537.00,410.00C535.13,410.16 534.40,409.92 533.00,410.50C531.60,411.08 531.93,411.45 531.00,412.50C530.07,413.55 529.70,414.00 529.00,415.00C528.30,416.00 527.65,416.22 528.00,416.80C528.35,417.38 529.61,417.10 530.50,417.50C531.39,417.90 531.80,418.03 531.80,418.50C531.80,418.97 531.27,419.20 530.50,419.50C529.73,419.80 528.85,419.40 528.50,419.80C528.15,420.20 529.35,420.69 529.00,421.20C528.65,421.71 528.40,421.77 527.00,422.00C525.60,422.23 524.63,422.25 523.00,422.20C521.37,422.15 520.93,422.20 520.00,421.80C519.07,421.40 519.28,421.85 519.00,420.50Z"/>
<path d="M598.00,422.00C597.77,421.30 597.92,420.93 598.50,420.00C599.08,419.07 599.68,419.17 600.50,418.00C601.32,416.83 601.30,417.10 602.00,415.00C602.70,412.90 602.85,411.80 603.50,409.00C604.15,406.20 604.26,405.57 604.80,403.00C605.34,400.43 605.33,399.98 605.80,398.00C606.27,396.02 606.05,395.85 606.80,394.50C607.55,393.15 607.67,392.97 609.00,392.20C610.33,391.43 610.63,391.36 612.50,391.20C614.37,391.04 614.78,391.43 617.00,391.50C619.22,391.57 619.67,391.57 622.00,391.50C624.33,391.43 624.67,391.32 627.00,391.20C629.33,391.08 629.90,391.05 632.00,391.00C634.10,390.95 634.48,391.23 636.00,391.00C637.52,390.77 637.57,390.93 638.50,390.00C639.43,389.07 639.07,388.28 640.00,387.00C640.93,385.72 641.22,385.48 642.50,384.50C643.78,383.52 643.98,383.38 645.50,382.80C647.02,382.22 647.37,382.07 649.00,382.00C650.63,381.93 650.98,382.03 652.50,382.50C654.02,382.97 654.22,383.07 655.50,384.00C656.78,384.93 657.07,385.22 658.00,386.50C658.93,387.78 658.68,388.22 659.50,389.50C660.32,390.78 660.96,391.07 661.50,392.00C662.04,392.93 662.15,392.80 661.80,393.50C661.45,394.20 660.65,394.18 660.00,395.00C659.35,395.82 659.70,396.65 659.00,397.00C658.30,397.35 657.93,396.27 657.00,396.50C656.07,396.73 655.93,397.30 655.00,398.00C654.07,398.70 653.70,398.57 653.00,399.50C652.30,400.43 652.70,400.83 652.00,402.00C651.30,403.17 651.05,403.57 650.00,404.50C648.95,405.43 648.32,404.95 647.50,406.00C646.68,407.05 646.85,407.37 646.50,409.00C646.15,410.63 646.12,411.13 646.00,413.00C645.88,414.87 645.53,415.83 646.00,417.00C646.47,418.17 647.30,417.49 648.00,418.00C648.70,418.51 649.00,418.62 649.00,419.20C649.00,419.78 648.93,420.13 648.00,420.50C647.07,420.87 646.28,420.92 645.00,420.80C643.72,420.68 643.20,420.77 642.50,420.00C641.80,419.23 642.16,418.90 642.00,417.50C641.84,416.10 642.03,415.63 641.80,414.00C641.57,412.37 641.65,411.90 641.00,410.50C640.35,409.10 639.93,409.05 639.00,408.00C638.07,406.95 638.17,406.42 637.00,406.00C635.83,405.58 635.63,406.08 634.00,406.20C632.37,406.32 631.87,406.55 630.00,406.50C628.13,406.45 627.75,406.40 626.00,406.00C624.25,405.60 623.90,405.22 622.50,404.80C621.10,404.38 620.93,403.92 620.00,404.20C619.07,404.48 619.08,404.88 618.50,406.00C617.92,407.12 617.97,407.48 617.50,409.00C617.03,410.52 616.97,410.98 616.50,412.50C616.03,414.02 615.73,414.22 615.50,415.50C615.27,416.78 615.15,416.95 615.50,418.00C615.85,419.05 615.83,419.42 617.00,420.00C618.17,420.58 619.57,420.08 620.50,420.50C621.43,420.92 621.58,421.33 621.00,421.80C620.42,422.27 619.40,422.45 618.00,422.50C616.60,422.55 616.17,422.58 615.00,422.00C613.83,421.42 613.82,421.05 613.00,420.00C612.18,418.95 612.08,418.43 611.50,417.50C610.92,416.57 611.08,416.00 610.50,416.00C609.92,416.00 609.40,416.57 609.00,417.50C608.60,418.43 608.57,418.95 608.80,420.00C609.03,421.05 609.14,421.35 610.00,422.00C610.86,422.65 612.03,422.38 612.50,422.80C612.97,423.22 612.82,423.52 612.00,423.80C611.18,424.08 610.17,424.19 609.00,424.00C607.83,423.81 607.75,423.93 607.00,423.00C606.25,422.07 606.22,421.52 605.80,420.00C605.38,418.48 605.20,418.13 605.20,416.50C605.20,414.87 605.50,414.75 605.80,413.00C606.10,411.25 606.27,410.87 606.50,409.00C606.73,407.13 606.73,406.63 606.80,405.00C606.87,403.37 607.03,402.00 606.80,402.00C606.57,402.00 606.27,402.90 605.80,405.00C605.33,407.10 605.27,408.43 604.80,411.00C604.33,413.57 604.34,413.90 603.80,416.00C603.26,418.10 603.04,418.60 602.50,420.00C601.96,421.40 602.20,421.30 601.50,422.00C600.80,422.70 600.32,423.00 599.50,423.00C598.68,423.00 598.23,422.70 598.00,422.00Z"/>
<path fill="#fff" d="M198.26,430.31 L199.37,430.13 L201.97,433.94 L200.67,434.31Z"/>
</g>
</svg>
</body></html>
